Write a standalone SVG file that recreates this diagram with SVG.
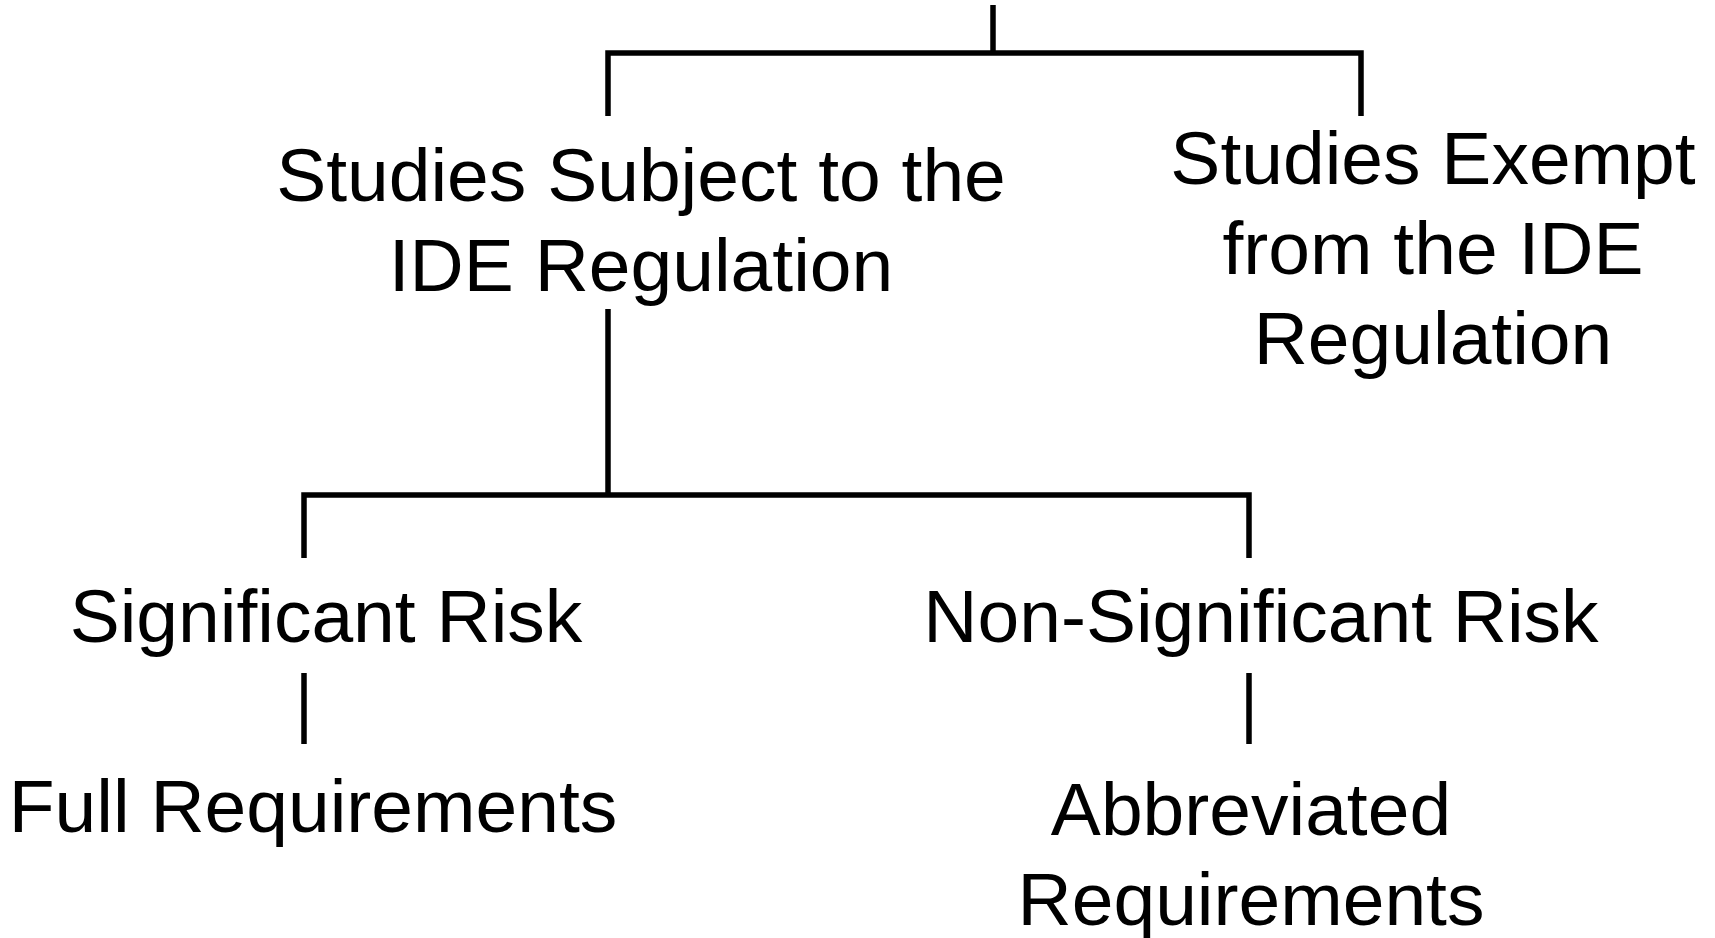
<svg xmlns="http://www.w3.org/2000/svg" width="1715" height="938" viewBox="0 0 1715 938">
  <style>
    .lbl { font-family: "Liberation Sans", Arial, sans-serif; font-size: 75px; fill: #000; text-anchor: middle; }
    .conn { fill: none; stroke: #000; stroke-width: 5.5; stroke-linejoin: miter; stroke-linecap: butt; }
  </style>
  <rect width="1715" height="938" fill="#fff"/>
  <g id="connectors">
    <path class="conn" d="M993 5 V53"/>
    <path class="conn" d="M608 116 V53 H1361 V116"/>
    <path class="conn" d="M608 309 V495"/>
    <path class="conn" d="M304 558 V495 H1249 V558"/>
    <path class="conn" d="M304 673 V744"/>
    <path class="conn" d="M1249 673 V744"/>
  </g>
  <g id="node-subject">
    <text class="lbl" x="641" y="201">Studies Subject to the</text>
    <text class="lbl" x="641" y="291">IDE Regulation</text>
  </g>
  <g id="node-exempt">
    <text class="lbl" x="1433" y="184">Studies Exempt</text>
    <text class="lbl" x="1433" y="274">from the IDE</text>
    <text class="lbl" x="1433" y="364">Regulation</text>
  </g>
  <g id="node-sr">
    <text class="lbl" x="326" y="642">Significant Risk</text>
  </g>
  <g id="node-nsr">
    <text class="lbl" x="1261" y="642">Non-Significant Risk</text>
  </g>
  <g id="node-full">
    <text class="lbl" x="313" y="832">Full Requirements</text>
  </g>
  <g id="node-abbrev">
    <text class="lbl" x="1251" y="835">Abbreviated</text>
    <text class="lbl" x="1251" y="925">Requirements</text>
  </g>
</svg>
